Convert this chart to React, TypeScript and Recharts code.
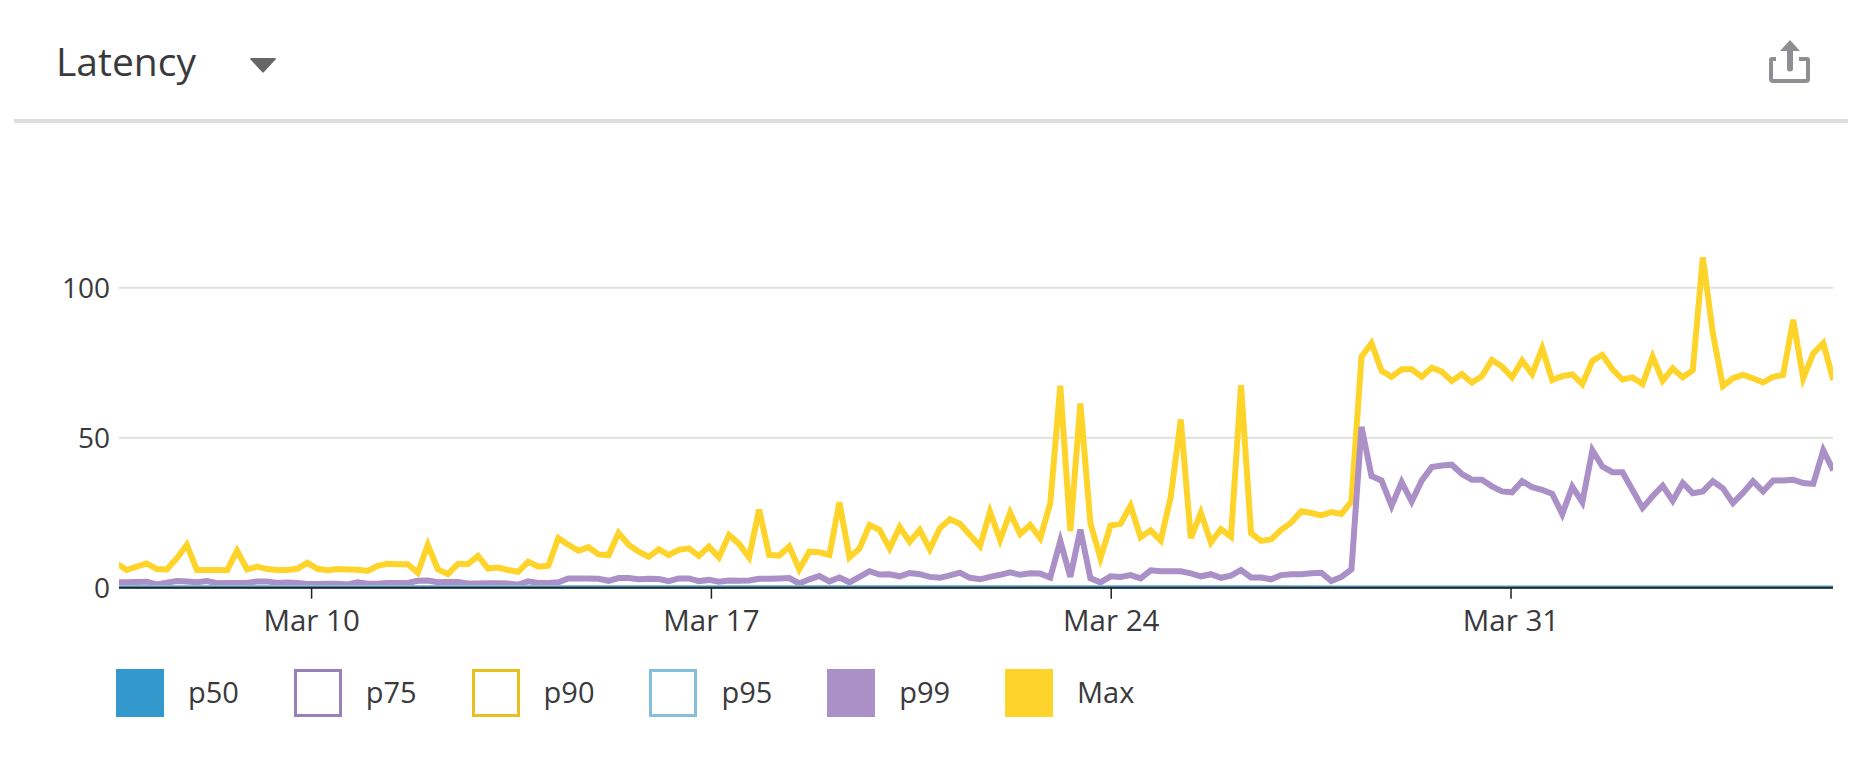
import { LineChart, Line, XAxis, YAxis, CartesianGrid } from 'recharts';

const maxValues = [
  8.1, 5.9, 7.0, 8.1, 6.2, 6.1, 9.8, 14.3, 5.9, 5.9, 5.9, 5.8, 12.3, 6.1, 7.0, 6.2, 5.9, 5.9, 6.3, 8.3, 6.3, 5.8, 6.2, 6.1, 6.0, 5.6, 7.3, 8.0, 7.8,
  7.8, 5.0, 14.3, 6.1, 4.5, 7.9, 7.9, 10.6, 6.4, 6.7, 5.9, 5.3, 8.7, 7.0, 7.3, 16.5, 14.3, 12.3, 13.5, 11.1, 10.8, 18.2, 14.3, 12.0, 10.3, 12.8, 10.9, 12.6, 13.1,
  10.6, 13.7, 10.1, 17.6, 14.6, 10.1, 26.0, 10.9, 10.7, 13.7, 6.1, 12.0, 11.8, 10.9, 28.5, 10.1, 13.1, 20.9, 19.3, 13.1, 20.2, 15.3, 19.3, 12.8, 19.8, 22.8, 21.3, 17.6, 13.9,
  25.3, 15.9, 25.0, 17.9, 20.9, 16.5, 28.1, 67.3, 18.9, 61.4, 21.5, 9.8, 20.7, 21.3, 27.3, 16.8, 19.1, 15.7, 30.2, 56.1, 16.5, 25.0, 15.1, 19.5, 17.0, 67.5, 18.2, 15.6, 16.1,
  19.3, 21.7, 25.5, 24.9, 24.1, 25.2, 24.6, 28.7, 77, 81.5, 72.3, 70.3, 72.8, 72.8, 70.3, 73.3, 72, 68.9, 71.2, 68.4, 70.5, 75.9, 73.7, 70.1, 75.7, 71.2, 79.8, 69.2, 70.5,
  71.1, 67.9, 75.6, 77.6, 72.8, 69.4, 70.1, 67.9, 77, 69, 73.1, 70.1, 72.5, 110.1, 84.8, 67.2, 69.8, 70.9, 69.8, 68.4, 70.3, 70.9, 89.3, 69.8, 78.1, 81.5, 69.2,
];

const p99Values = [
  1.8, 1.8, 1.9, 2.0, 1.1, 1.7, 2.2, 2.1, 1.8, 2.2, 1.5, 1.6, 1.6, 1.6, 2.1, 2.1, 1.6, 1.7, 1.6, 1.2, 1.2, 1.3, 1.3, 1.1, 1.8, 1.3, 1.3, 1.6, 1.6,
  1.6, 2.3, 2.4, 1.8, 1.9, 1.9, 1.4, 1.4, 1.5, 1.5, 1.4, 1.0, 2.1, 1.6, 1.6, 1.8, 3.1, 3.1, 3.1, 3.0, 2.3, 3.2, 3.2, 2.8, 3.0, 2.9, 2.2, 3.1, 3.1,
  2.2, 2.6, 2.0, 2.4, 2.3, 2.4, 3.0, 3.0, 3.1, 3.2, 1.4, 2.8, 3.9, 2.1, 3.4, 1.8, 3.6, 5.5, 4.4, 4.5, 3.8, 4.9, 4.5, 3.6, 3.3, 4.1, 5.0, 3.3, 2.8,
  3.6, 4.3, 5.1, 4.3, 4.8, 4.7, 3.4, 15.6, 3.6, 19.4, 3.1, 1.8, 3.8, 3.6, 4.2, 3.1, 5.8, 5.5, 5.5, 5.5, 4.8, 3.8, 4.5, 3.3, 4.0, 5.9, 3.4, 3.4, 2.8,
  4.2, 4.5, 4.5, 4.8, 5.0, 2.2, 3.6, 6.1, 53.6, 37.2, 35.7, 27.3, 35.2, 28.7, 35.7, 40.2, 40.7, 41, 37.9, 36, 36, 33.8, 32.1, 31.8, 35.5, 33.5, 32.6, 31.3, 24.5,
  33.7, 28.5, 45.8, 40.4, 38.5, 38.5, 32.6, 26.6, 30.5, 34, 29, 34.9, 31.5, 32.1, 35.5, 33.1, 28.2, 31.6, 35.5, 32.1, 35.7, 35.7, 36, 34.9, 34.6, 45.8, 39.1,
];

// the four low percentiles sit on the baseline the whole time, a few samples are enough
const lowDays = [6.6, 14, 21, 28, 36.7];
const p50Values = [0.05, 0.05, 0.05, 0.05, 0.05];
const p75Values = [0.1, 0.1, 0.1, 0.1, 0.1];
const p90Values = [0.15, 0.15, 0.15, 0.15, 0.15];
const p95Values = [0.4, 0.4, 0.4, 0.35, 0.3];

const tickDays = [10, 17, 24, 31];
const tickLabels = ['Mar 10', 'Mar 17', 'Mar 24', 'Mar 31'];
const yTicks = [0, 50, 100];

const legendNames = ['p50', 'p75', 'p90', 'p95', 'p99', 'Max'];
const legendColors = ['#3399cc', '#9a80b8', '#e9bf1e', '#85bfdb', '#ab8fc7', '#ffd42a'];
const legendFilled = [true, false, false, false, true, true];

// sampling grid of the series, in days of March
const FIRST_DAY = 6.586;
const DAY_STEP = 0.17577;

const chartData = maxValues.map((max, i) => ({
  day: FIRST_DAY + i * DAY_STEP,
  max,
  p99: p99Values[i],
}));

const lowData = (values: number[]) => lowDays.map((day, i) => ({ day, value: values[i] }));

const FONT = '"Open Sans", sans-serif';
const TEXT = '#3a3a3d';

const LegendRow = () => (
  <div style={{ position: 'absolute', left: 116, top: 669, display: 'flex', fontFamily: FONT, fontSize: 29, color: TEXT }}>
    {legendNames.map((name, i) => (
      <div key={name} style={{ width: 177.8, height: 48, display: 'flex', alignItems: 'center' }}>
        <div
          style={{
            width: 48,
            height: 48,
            boxSizing: 'border-box',
            background: legendFilled[i] ? legendColors[i] : '#fff',
            border: `3px solid ${legendColors[i]}`,
          }}
        />
        <span style={{ marginLeft: 24, position: 'relative', top: -2 }}>{name}</span>
      </div>
    ))}
  </div>
);

const App = () => (
  <div style={{ position: 'absolute', left: 0, top: 0, width: 1871, height: 757, overflow: 'hidden', background: '#fff' }}>
    <div style={{ position: 'absolute', left: 56, top: 35, fontFamily: FONT, fontSize: 39, lineHeight: '52px', color: TEXT }}>
      Latency
    </div>
    <svg style={{ position: 'absolute', left: 0, top: 0 }} width={1871} height={130}>
      <path d="M250 59 Q250 58 252 58 L274 58 Q276 58 276 59 L264 72 Q263 73 262 72 Z" fill="#666" />
      <rect x={14} y={119} width={1834} height={4} fill="#dfdfe3" />
      <path
        d="M1777 59 L1773 59 Q1772 59 1772 60 L1772 79 Q1772 81 1774 81 L1807 81 Q1809 81 1809 79 L1809 60 Q1809 59 1808 59 L1800 59"
        fill="none"
        stroke="#8e8e93"
        strokeWidth={4}
        transform="translate(-1 0)"
      />
      <path d="M1790 40 L1800 51 L1793 51 L1793 70 Q1790 73 1787 70 L1787 51 L1780 51 Z" fill="#8e8e93" />
    </svg>
    <div style={{ position: 'absolute', left: 0, top: 0 }}>
      <LineChart
        width={1871}
        height={757}
        data={chartData}
        margin={{ top: 227.7, right: 38, bottom: 0, left: 0 }}
      >
        <XAxis
          dataKey="day"
          type="number"
          domain={[6.628, 36.637]}
          allowDataOverflow
          ticks={tickDays}
          tickFormatter={(d: number) => tickLabels[tickDays.indexOf(d)]}
          height={169.3}
          tickSize={11}
          tickMargin={11}
          tick={{ fill: TEXT, fontSize: 29.5, fontFamily: FONT }}
          tickLine={{ stroke: '#222', strokeWidth: 1.5 }}
          axisLine={{ stroke: '#1c2a35', strokeWidth: 2 }}
        />
        <YAxis
          type="number"
          domain={[0, 120]}
          ticks={yTicks}
          width={119}
          tickSize={0}
          tickMargin={9}
          axisLine={false}
          tick={{ fill: TEXT, fontSize: 28, fontFamily: FONT }}
        />
        <Line dataKey="max" stroke="#ffd42a" strokeWidth={6} strokeLinejoin="miter" dot={false} isAnimationActive={false} />
        <Line dataKey="p99" stroke="#ab8fc7" strokeWidth={6} strokeLinejoin="miter" dot={false} isAnimationActive={false} />
        <Line data={lowData(p95Values)} dataKey="value" stroke="#85bfdb" strokeWidth={3} dot={false} isAnimationActive={false} />
        <Line data={lowData(p90Values)} dataKey="value" stroke="#e9bf1e" strokeWidth={1} dot={false} isAnimationActive={false} />
        <Line data={lowData(p75Values)} dataKey="value" stroke="#9a80b8" strokeWidth={1} dot={false} isAnimationActive={false} />
        <Line data={lowData(p50Values)} dataKey="value" stroke="#3399cc" strokeWidth={2} dot={false} isAnimationActive={false} />
        <CartesianGrid vertical={false} horizontalValues={yTicks} stroke="rgba(0,0,0,0.12)" strokeWidth={2} />
      </LineChart>
    </div>
    <LegendRow />
  </div>
);

export default App;
